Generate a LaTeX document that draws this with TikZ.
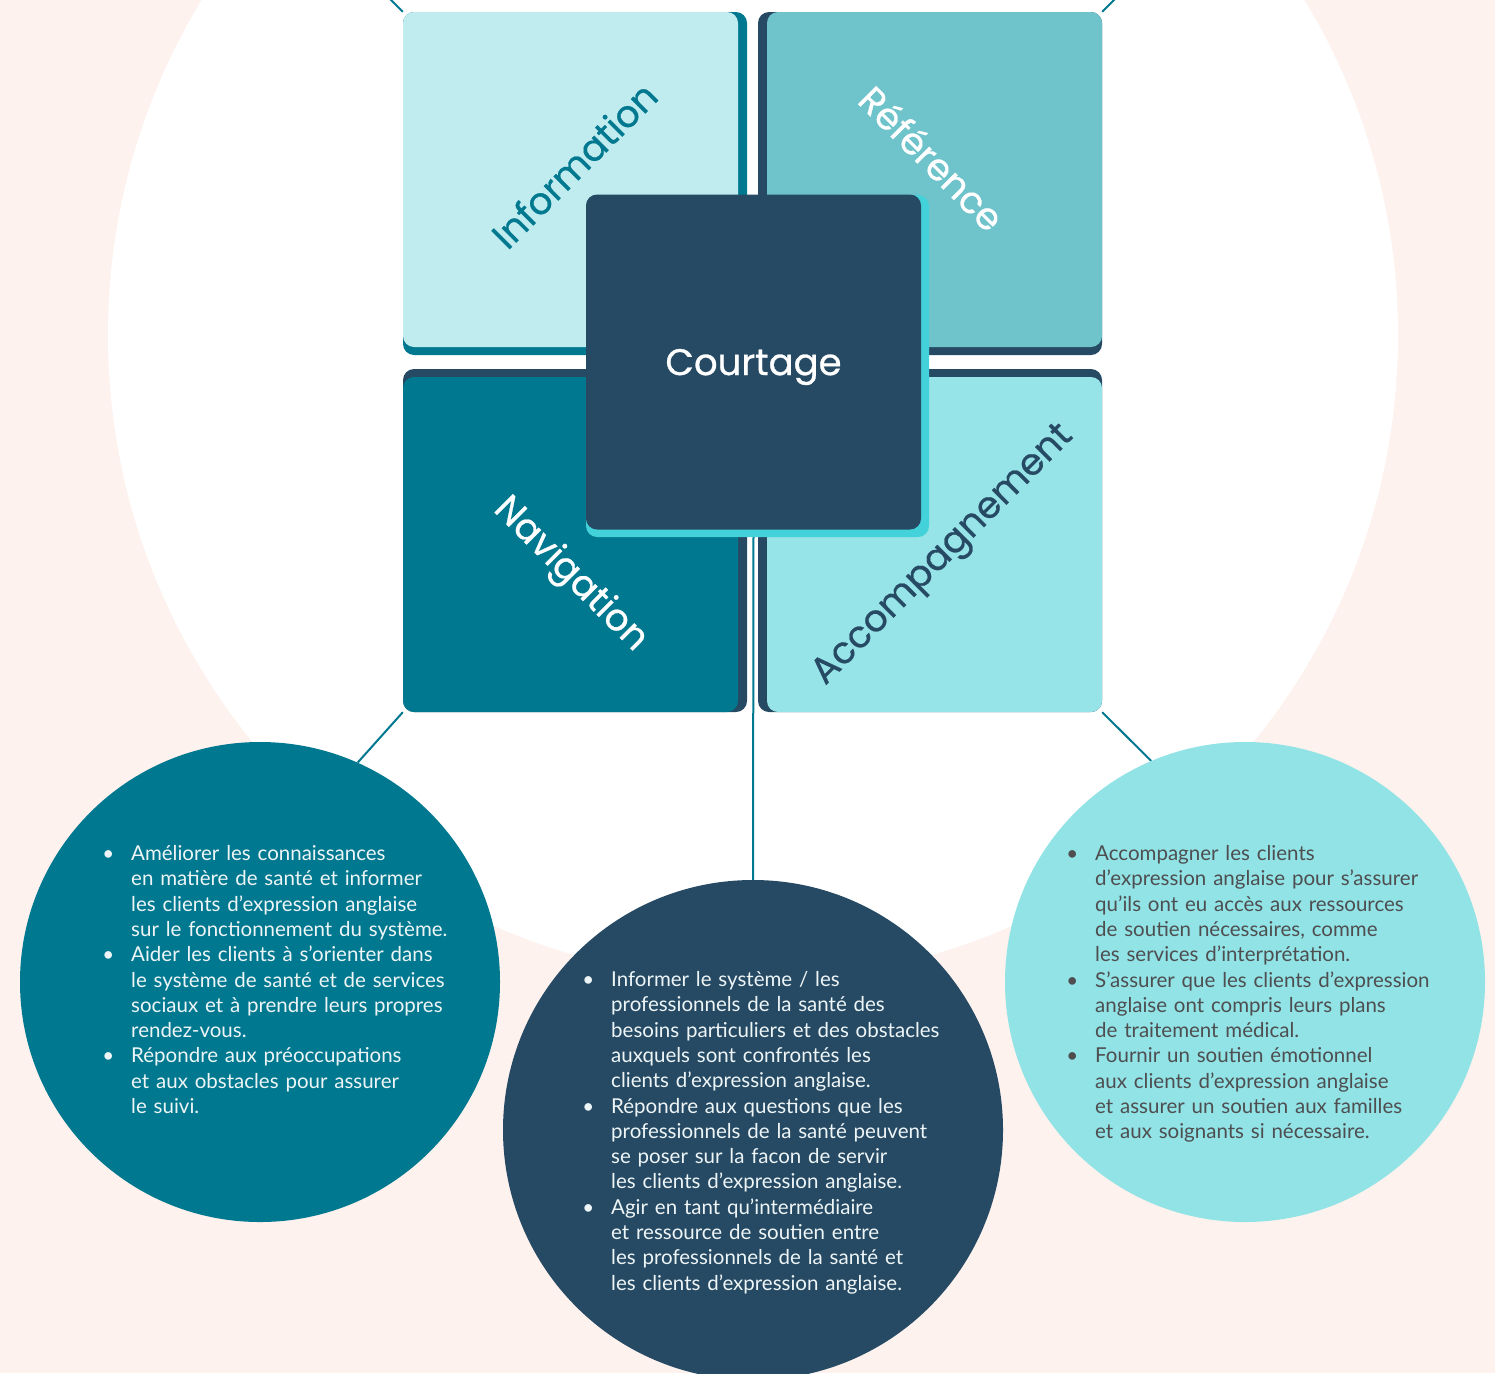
\documentclass[tikz,border=0pt]{standalone}
\usepackage{fontspec}
\setmainfont{Lato}
\newfontfamily\headfont[FakeBold=0.7]{Poppins}
\usepackage{enumitem}
\newlist{dotlist}{itemize}{1}
\setlist[dotlist]{label=\textbullet, leftmargin=21pt, labelsep=17pt, itemsep=0pt, topsep=0pt, parsep=0pt, partopsep=0pt}
\usetikzlibrary{calc}
\pgfdeclarelayer{under}
\pgfsetlayers{under,main}

\definecolor{peach}{HTML}{FDF2EE}
\definecolor{deepteal}{HTML}{00788F}
\definecolor{navy}{HTML}{264A63}
\definecolor{palecyan}{HTML}{C1ECEF}
\definecolor{midteal}{HTML}{6FC3CA}
\definecolor{softcyan}{HTML}{96E3E8}
\definecolor{brightcyan}{HTML}{43D1DA}
\definecolor{circcyan}{HTML}{91E3E6}
\definecolor{inkgrey}{HTML}{4E4E50}
\definecolor{offwhite}{HTML}{EEF5F7}

\tikzset{
  tile/.style={rectangle, rounded corners=11pt, minimum width=335pt, minimum height=335pt, inner sep=0pt},
  tilelabel/.style={font=\headfont\fontsize{37}{42}\selectfont, inner sep=0pt},
  bubble/.style={circle, inner sep=0pt},
  bodytext/.style={text width=440pt, align=left, inner sep=0pt, anchor=north west, font=\fontsize{20.5}{25.3}\selectfont},
  link/.style={draw=deepteal, line width=2pt},
}

\begin{document}
\begin{tikzpicture}[x=1pt,y=-1pt]
\useasboundingbox (0,0) rectangle (1495,1373);

\begin{pgfonlayer}{under}
  \fill[peach] (0,0) rectangle (1495,1373);
  \fill[white] (753,335) circle[radius=645];
\end{pgfonlayer}

% tile shadows
\fill[deepteal, rounded corners=11pt] (403,12) rectangle (747,355);
\fill[navy, rounded corners=11pt] (758,12) rectangle (1102,355);
\fill[navy, rounded corners=11pt] (403,369) rectangle (747,712);
\fill[navy, rounded corners=11pt] (758,369) rectangle (1102,712);

% the four tiles
\node[tile, fill=palecyan] (info) at (570.5,179.5) {};
\node[tile, fill=midteal]  (ref)  at (934.5,179.5) {};
\node[tile, fill=deepteal] (nav)  at (570.5,544.5) {};
\node[tile, fill=softcyan] (acc)  at (934.5,544.5) {};

\node[tilelabel, text=deepteal, rotate=45]  (infolabel) at (574,165) {Information};
\node[tilelabel, text=white, rotate=-45]    (reflabel)  at (932,158) {Référence};
\node[tilelabel, text=white, rotate=-45]    (navlabel)  at (570,575) {Navigation};
\node[tilelabel, text=navy, rotate=45]      (acclabel)  at (944,556) {Accompagnement};

% central tile
\fill[brightcyan, rounded corners=11pt] (586,195) rectangle (929,537);
\node[tile, fill=navy] (court) at (753.5,362) {};
\node[tilelabel, text=white] (courtlabel) at ($(court.center)+(0,5)$) {Courtage};

% bubbles
\node[bubble, fill=deepteal, minimum size=480pt] (lcirc) at (260,982) {};
\node[bubble, fill=navy, minimum size=500pt]     (mcirc) at (753,1130) {};
\node[bubble, fill=circcyan, minimum size=480pt] (rcirc) at (1245,982) {};

\node[bodytext, text=offwhite] (ltext) at (110,835) {%
\begin{dotlist}
\item Améliorer les connaissances\\ en matière de santé et informer\\ les clients d’expression anglaise\\ sur le fonctionnement du système.
\item Aider les clients à s’orienter dans\\ le système de santé et de services\\ sociaux et à prendre leurs propres\\ rendez-vous.
\item Répondre aux préoccupations\\ et aux obstacles pour assurer\\ le suivi.
\end{dotlist}};

\node[bodytext, text=offwhite] (mtext) at (590,961) {%
\begin{dotlist}
\item Informer le système / les\\ professionnels de la santé des\\ besoins particuliers et des obstacles\\ auxquels sont confrontés les\\ clients d’expression anglaise.
\item Répondre aux questions que les\\ professionnels de la santé peuvent\\ se poser sur la facon de servir\\ les clients d’expression anglaise.
\item Agir en tant qu’intermédiaire\\ et ressource de soutien entre\\ les professionnels de la santé et\\ les clients d’expression anglaise.
\end{dotlist}};

\node[bodytext, text=inkgrey] (rtext) at (1074,835) {%
\begin{dotlist}
\item Accompagner les clients\\ d’expression anglaise pour s’assurer\\ qu’ils ont eu accès aux ressources\\ de soutien nécessaires, comme\\ les services d’interprétation.
\item S’assurer que les clients d’expression\\ anglaise ont compris leurs plans\\ de traitement médical.
\item Fournir un soutien émotionnel\\ aux clients d’expression anglaise\\ et assurer un soutien aux familles\\ et aux soignants si nécessaire.
\end{dotlist}};

% connectors
\begin{pgfonlayer}{under}
  \coordinate (topleft)  at (380,-11);
  \coordinate (topright) at (1125,-11);
  \draw[link] (info.north west) -- (topleft);
  \draw[link] (ref.north east)  -- (topright);
  \draw[link] (nav.south west)  -- (lcirc.66.6);
  \draw[link] (acc.south east)  -- (rcirc.113.4);
  \draw[link] (court.south)     -- (mcirc.north);
\end{pgfonlayer}
\end{tikzpicture}
\end{document}
